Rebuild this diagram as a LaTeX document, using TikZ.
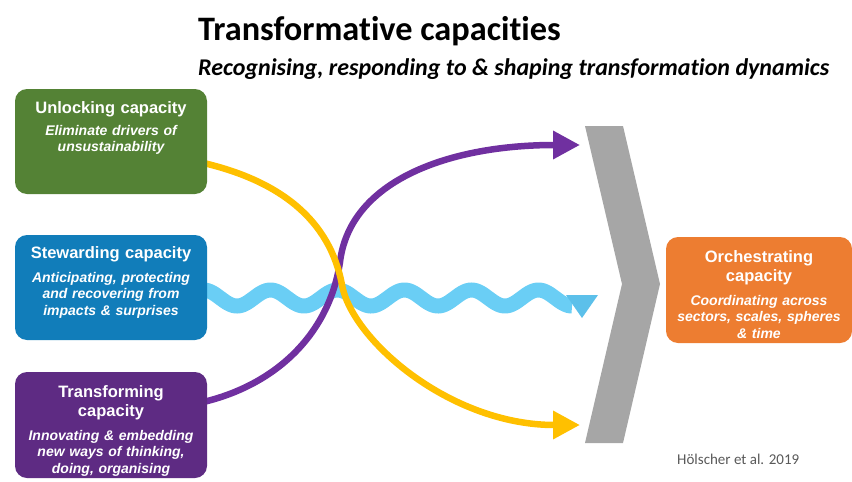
\documentclass[tikz,border=0pt]{standalone}
\usepackage{fontspec}
\setmainfont{Liberation Sans}
\newfontfamily\calfont[Ligatures=NoCommon]{Carlito}
\usetikzlibrary{arrows.meta,backgrounds}

\definecolor{unlockgreen}{HTML}{548235}
\definecolor{stewardblue}{HTML}{117DBA}
\definecolor{transformpurple}{HTML}{5E2B83}
\definecolor{orchestorange}{HTML}{ED7D31}
\definecolor{chevrongrey}{HTML}{A6A6A6}
\definecolor{arrowpurple}{HTML}{7030A0}
\definecolor{arrowyellow}{HTML}{FFC000}
\definecolor{wavecyan}{HTML}{6ACEF5}
\definecolor{waveheadcyan}{HTML}{5CC0EA}
\definecolor{citegrey}{HTML}{595959}

\tikzset{
  capbox/.style={rounded corners=12pt, minimum width=192pt, minimum height=105pt,
                 inner sep=0pt, draw=none},
  captitle/.style={text=white, text width=186pt, align=center, anchor=base, inner sep=0pt,
                   font=\bfseries\fontsize{16.5}{19.5}\selectfont},
  capsub/.style={text=white, text width=186pt, align=center, anchor=base, inner sep=0pt,
                 font=\bfseries\itshape\fontsize{14}{16.7}\selectfont},
  flowline/.style={line width=6.5pt, line cap=butt,
                   -{Triangle[length=27pt,width=27pt]}},
  wave/.style={line width=15pt, color=wavecyan},
}

\begin{document}
\begin{tikzpicture}[x=1pt, y=-1pt]
  \useasboundingbox (0,0) rectangle (852,482);

  % headings
  \node[anchor=base west, inner sep=0pt, font=\calfont\bfseries\fontsize{34.3}{38}\selectfont]
    (title) at (198,40) {Transformative capacities};
  \node[anchor=base west, inner sep=0pt, font=\calfont\bfseries\itshape\fontsize{24}{28}\selectfont]
    (subtitle) at (198,75) {Recognising, responding to \& shaping transformation dynamics};

  % the four capacity boxes
  \node[capbox, fill=unlockgreen] (unlock) at (111,141.5) {};
  \node[capbox, fill=stewardblue] (steward) at (111,287.5) {};
  \node[capbox, fill=transformpurple, minimum height=106pt] (transform) at (111,425) {};
  \node[capbox, fill=orchestorange, minimum width=186pt, minimum height=106pt]
    (orchestrate) at (759,290) {};

  \node[captitle] (unlockT) at (111,113) {Unlocking capacity};
  \node[capsub] (unlockS) at (111,135) {Eliminate drivers of\\unsustainability};

  \node[captitle] (stewardT) at (111,258) {Stewarding capacity};
  \node[capsub] (stewardS) at (111,282)
    {Anticipating, protecting\\and recovering from\\impacts \& surprises};

  \node[captitle] (transformT) at (111,397) {Transforming\\capacity};
  \node[capsub] (transformS) at (111,440)
    {Innovating \& embedding\\new ways of thinking,\\doing, organising};

  \node[captitle] (orchestrateT) at (759,262) {Orchestrating\\capacity};
  \node[capsub] (orchestrateS) at (759,305)
    {Coordinating across\\sectors, scales, spheres\\\& time};

  % grey chevron in front of the orchestrating box
  \fill[chevrongrey] (585,126) -- (623,126) -- (660,284) -- (623,443)
    -- (585,443) -- (622,284) -- cycle;

  % arrow end points and curve waypoints
  \coordinate (purpleMid) at (340,262);
  \coordinate (purpleTip) at (580,145);
  \coordinate (yellowMid) at (342,285);
  \coordinate (yellowTip) at (580,425);

  \node[anchor=base west, inner sep=0pt, text=citegrey,
        font=\calfont\fontsize{15}{18}\selectfont]
    (cite) at (677,464) {Hölscher et al. 2019};

  \begin{pgfonlayer}{background}
    % stewarding: wavy arrow
    \draw[wave] plot[domain=186.75:572, samples=200, smooth]
      (\x, {298 - 8*sin((\x-186.75)/67*360)});
    \fill[waveheadcyan] (566,295) -- (598,295) -- (582,318) -- cycle;

    % transforming: rising purple arrow
    \draw[flowline, color=arrowpurple]
      ([xshift=-8pt, yshift=22pt]transform.east)
      .. controls (280,385) and (330,330) .. (purpleMid)
      .. controls (350,180) and (450,145) .. (purpleTip);

    % unlocking: falling yellow arrow
    \draw[flowline, color=arrowyellow]
      ([xshift=-8pt, yshift=-20.5pt]unlock.east)
      .. controls (280,180) and (330,220) .. (yellowMid)
      .. controls (352,340) and (450,425) .. (yellowTip);
  \end{pgfonlayer}
\end{tikzpicture}
\end{document}
